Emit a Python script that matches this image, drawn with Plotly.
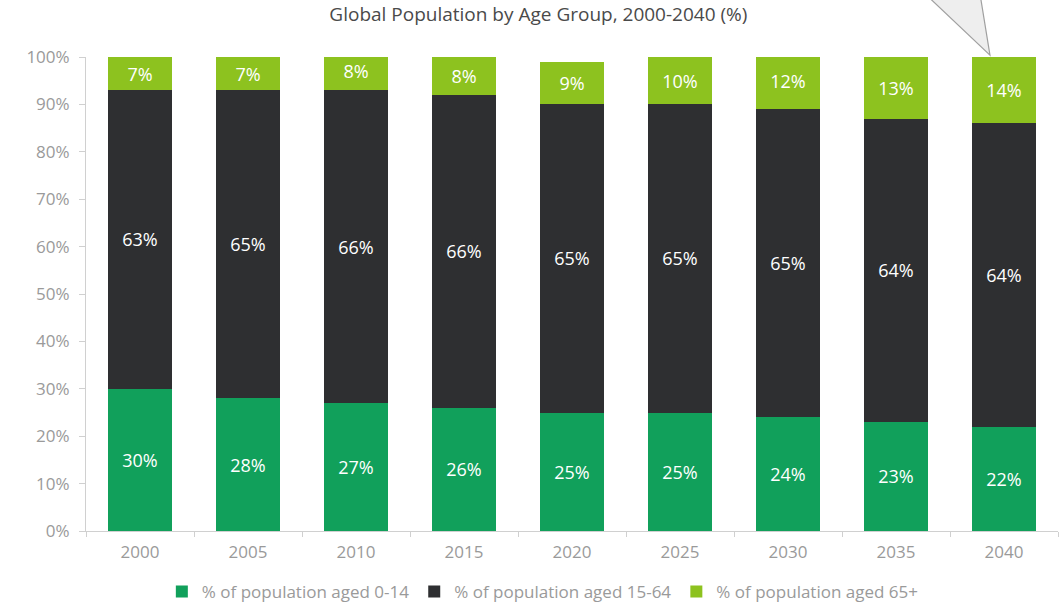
import plotly.graph_objects as go

years = ["2000", "2005", "2010", "2015", "2020", "2025", "2030", "2035", "2040"]
aged_0_14 = [30, 28, 27, 26, 25, 25, 24, 23, 22]
aged_15_64 = [63, 65, 66, 66, 65, 65, 65, 64, 64]
aged_65_plus = [7, 7, 8, 8, 9, 10, 12, 13, 14]

series = [
    ("% of population aged 0-14", aged_0_14, "#11A05B"),
    ("% of population aged 15-64", aged_15_64, "#2E2F31"),
    ("% of population aged 65+", aged_65_plus, "#8DC21F"),
]

FONT = "Open Sans"
GREY = "#9a9a9a"

fig = go.Figure()
for name, vals, color in series:
    fig.add_trace(go.Bar(
        x=years, y=vals, name=name,
        marker=dict(color=color, line=dict(width=0)),
        text=[f"{v}%" for v in vals],
        textposition="inside", insidetextanchor="middle",
        textfont=dict(color="white", size=18, family=FONT),
        textangle=0,
    ))

# callout pointer from above the plot onto the 2040 bar
fig.add_shape(type="path", xref="paper", yref="paper",
              path="M 0.865 1.13 L 0.930 1.004 L 0.920 1.13 Z",
              fillcolor="rgba(205,205,205,0.35)",
              line=dict(color="#a0a0a0", width=1.2))

fig.update_layout(
    barmode="stack",
    bargap=0.41,
    width=1064, height=609,
    margin=dict(l=86, r=6, t=57, b=78, autoexpand=False),
    paper_bgcolor="white", plot_bgcolor="white",
    font=dict(family=FONT, color=GREY, size=17),
    title=dict(text="Global Population by Age Group, 2000-2040 (%)",
               x=0.506, xanchor="center", y=1 - 14 / 609, yanchor="middle",
               font=dict(size=19, color="#4a4a4a", family=FONT)),
    legend=dict(orientation="h", x=0.47, xanchor="center",
                y=-(592 - 531) / 474, yanchor="middle",
                font=dict(size=17, color=GREY, family=FONT), traceorder="normal",
                itemwidth=30, itemsizing="constant"),
    uniformtext=dict(minsize=14, mode="show"),
)
fig.update_yaxes(range=[0, 100], dtick=10, ticksuffix="%", showgrid=False,
                 showline=True, linecolor="#d0d0d0", linewidth=1,
                 ticks="outside", ticklen=6, tickcolor="#d0d0d0", ticklabelstandoff=6,
                 zeroline=False, tickfont=dict(size=17, color=GREY, family=FONT))
fig.update_xaxes(showgrid=False, showline=True, linecolor="#d0d0d0", linewidth=1,
                 ticks="outside", ticklen=5, tickcolor="#d0d0d0", tickson="boundaries",
                 ticklabelstandoff=6,
                 tickfont=dict(size=17, color=GREY, family=FONT))

fig.write_html("out.html")
